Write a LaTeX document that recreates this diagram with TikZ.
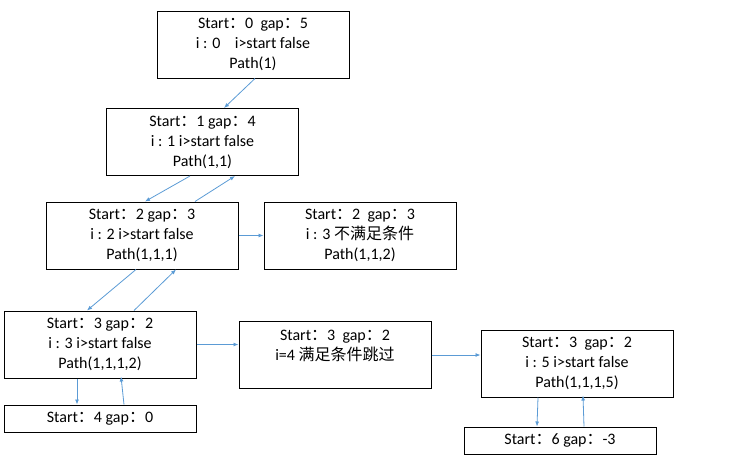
\documentclass[tikz,border=0pt]{standalone}
\usepackage{fontspec}
\setmainfont{Carlito}
\newfontfamily\cjk{Noto Sans CJK SC}
\usetikzlibrary{arrows.meta}
\newcommand{\cc}{{\cjk ：}}
\definecolor{linkblue}{HTML}{5B9BD5}
\tikzset{
  state/.style={draw=black, line width=1pt, minimum width=192pt, minimum height=67pt,
    align=center, inner sep=0pt, font=\fontsize{16}{20}\selectfont},
  leaf/.style={state, minimum height=27pt},
  link/.style={draw=linkblue, line width=0.8pt, -{Latex[length=5pt,width=4pt]}}
}

\begin{document}
\begin{tikzpicture}[x=1pt,y=-1pt]
\useasboundingbox (0,0) rectangle (745,464);
%----------states------------------------------
\node[state] (s1) at (253,44.5) {Start\cc 0\ \ gap\cc 5\\i : 0\ \ \ \ i>start false\\Path(1)};
\node[state] (s2) at (202.5,142) {Start\cc 1\ gap\cc 4\\i : 1 i>start false\\Path(1,1)};
\node[state] (s3) at (142,235.5) {Start\cc 2\ gap\cc 3\\i : 2 i>start false\\Path(1,1,1)};
\node[state] (s4) at (360,235.5) {Start\cc 2\ \ gap\cc 3\\i : 3\ {\cjk 不满足条件}\\Path(1,1,2)};
\node[state] (s5) at (100,344.5) {Start\cc 3\ gap\cc 2\\i : 3 i>start false\\Path(1,1,1,2)};
\node[state] (s6) at (335,355) {Start\cc 3\ \ gap\cc 2\\i=4 {\cjk 满足条件跳过}\\\mbox{}};
\node[state] (s7) at (577,363.5) {Start\cc 3\ \ gap\cc 2\\i : 5 i>start false\\Path(1,1,1,5)};
%----------leaves------------------------------
\node[leaf] (s8) at (100,418.5) {Start\cc 4\ gap\cc 0};
\node[leaf] (s9) at (560,440.5) {Start\cc 6\ gap\cc -3};
%----------calls and returns-------------------
\draw[link] ([xshift=2pt]s1.south) -- ([xshift=21.5pt]s2.north);
\draw[link] ([xshift=-12.5pt]s2.south) -- ([xshift=3pt]s3.north);
\draw[link] ([xshift=53pt]s3.north) -- ([xshift=32.5pt]s2.south);
\draw[link] (s3.east) -- (s4.west);
\draw[link] ([xshift=-6pt]s3.south) -- ([xshift=-13pt]s5.north);
\draw[link] ([xshift=34pt]s5.north) -- ([xshift=34pt]s3.south);
\draw[link] (s5.east) -- (s5.east -| s6.west);
\draw[link] (s6.east) -- (s6.east -| s7.west);
\draw[link] ([xshift=-23pt]s5.south) -- ([xshift=-23pt]s8.north);
\draw[link] ([xshift=24pt]s8.north) -- ([xshift=21pt,yshift=2pt]s5.south);
\draw[link] ([xshift=-39pt]s7.south) -- ([xshift=-23pt]s9.north);
\draw[link] ([xshift=24pt]s9.north) -- ([xshift=6pt,yshift=2pt]s7.south);
\end{tikzpicture}
\end{document}
